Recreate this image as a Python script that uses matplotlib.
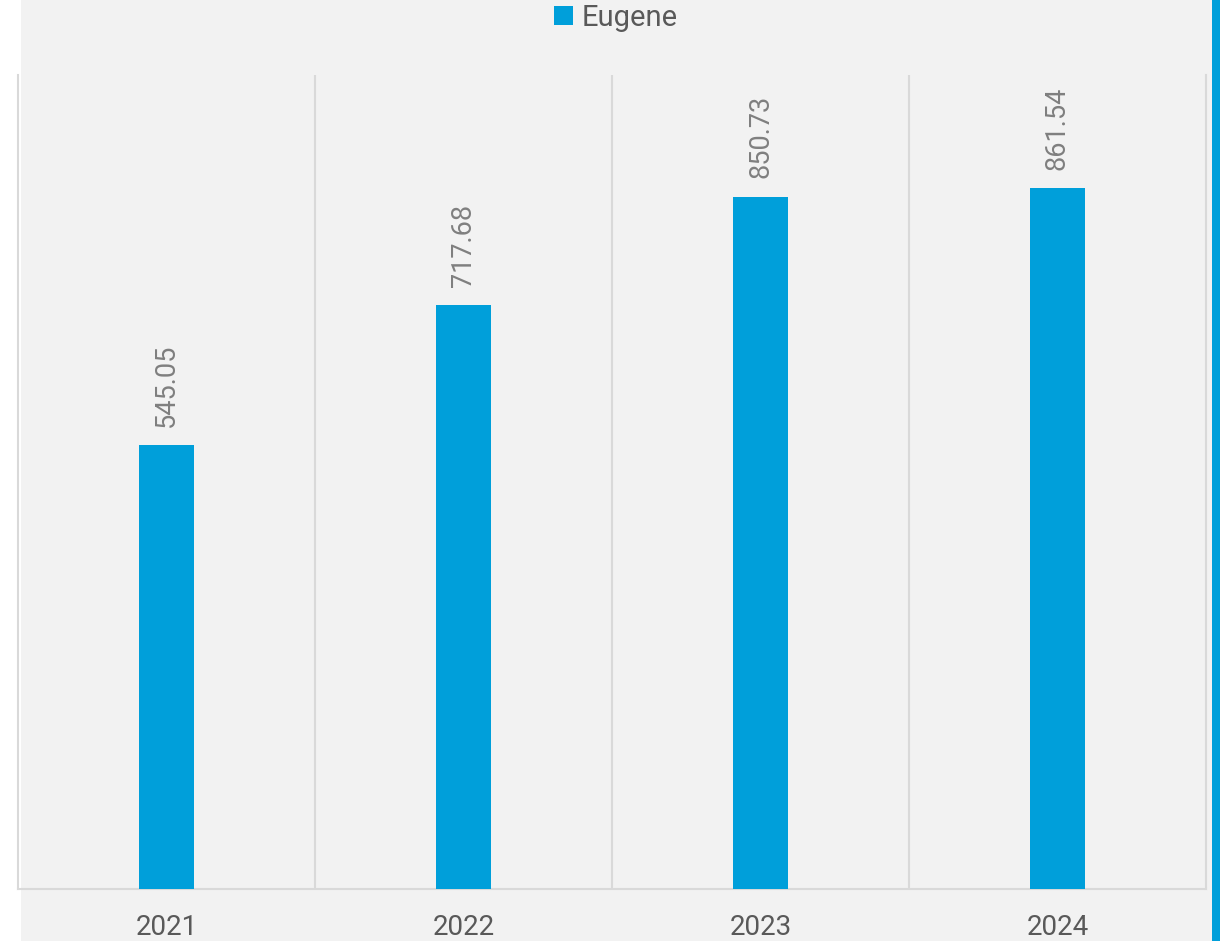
import matplotlib
matplotlib.use("Agg")
import matplotlib.pyplot as plt
from matplotlib.patches import Rectangle

years = ["2021", "2022", "2023", "2024"]
values = [545.05, 717.68, 850.73, 861.54]
series_name = "Eugene"

BAR = "#009FDA"
GRID = "#D9D9D9"
BG = "#F2F2F2"

plt.rcParams['font.family'] = ['Roboto', 'DejaVu Sans']

W, H = 1220, 941
fig = plt.figure(figsize=(W / 100, H / 100), dpi=100)
fig.patch.set_facecolor("white")
fig.patches.append(Rectangle((21 / W, 0), (1212 - 21) / W, 1, transform=fig.transFigure,
                             facecolor=BG, edgecolor="none", zorder=-10))
fig.patches.append(Rectangle((1212 / W, 0), 8 / W, 1, transform=fig.transFigure,
                             facecolor=BAR, edgecolor="none", zorder=-10))

ax = fig.add_axes([18 / W, (H - 889) / H, (1206 - 18) / W, (889 - 75) / H])
ax.set_facecolor("none")

x = list(range(len(years)))
bars = ax.bar(x, values, width=0.185, color=BAR, label=series_name, zorder=3)
ax.set_xlim(-0.5, len(years) - 0.5)
ax.set_ylim(0, 1000)

for b in [i - 0.5 for i in range(1, len(years))]:
    ax.axvline(b, color=GRID, lw=1.5, zorder=1)

for rect, v in zip(bars, values):
    ax.annotate(f"{v:.2f}", (rect.get_x() + rect.get_width() / 2, rect.get_height()),
                xytext=(0, 13), textcoords="offset points", rotation=90,
                ha="center", va="bottom", fontsize=19.5, color="#7F7F7F")

ax.set_xticks(x)
ax.set_xticklabels(years, fontsize=20, color="#595959")
ax.tick_params(axis="x", length=0, pad=18)
ax.set_yticks([])
for s in ["left", "right", "bottom"]:
    ax.spines[s].set_color(GRID)
    ax.spines[s].set_linewidth(1.5)
ax.spines["top"].set_visible(False)

fig.legend(handles=[bars], labels=[series_name], loc="center", bbox_to_anchor=(616 / W, 1 - 18 / H),
           frameon=False, fontsize=21, labelcolor="#595959", handlelength=0.65, handleheight=0.65,
           handletextpad=0.3)

fig.savefig("out.png", dpi=100, facecolor=fig.get_facecolor())
